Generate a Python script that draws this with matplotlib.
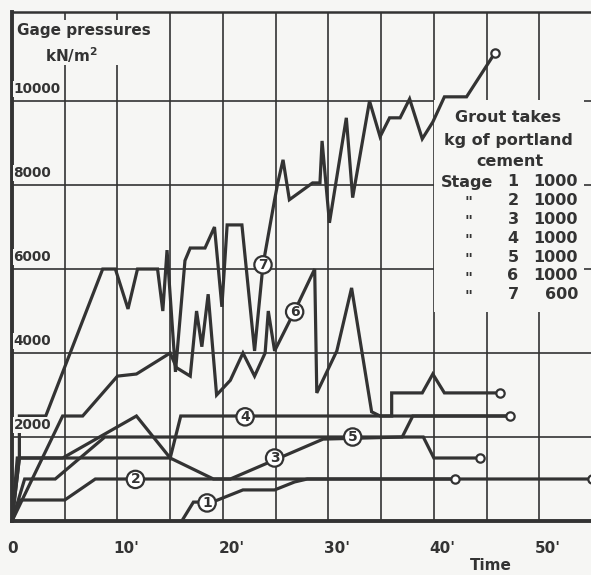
import matplotlib
matplotlib.use("Agg")
import matplotlib.pyplot as plt
from matplotlib.patches import Rectangle

# time in minutes, gage pressure in kN/m2
t1 = [16.1, 17.2, 19.0, 21.9, 24.9, 26.8, 28.0, 42.0]
p1 = [0, 450, 450, 740, 740, 930, 1000, 1000]

t2 = [0, 0.7, 5.0, 7.9, 55.0]
p2 = [0, 500, 500, 1000, 1000]

t3 = [0, 0.5, 15.0, 19.1, 20.7, 29.5, 37.0, 38.0, 47.2]
p3 = [0, 1500, 1500, 1000, 1000, 1950, 2000, 2500, 2500]

t4 = [0, 0.7, 4.8, 11.8, 15.0, 16.0, 47.2]
p4 = [0, 1500, 1500, 2500, 1500, 2500, 2500]

t5 = [0, 1.2, 4.1, 8.8, 39.0, 40.0, 44.4]
p5 = [0, 1000, 1000, 2000, 2000, 1500, 1500]

t6 = [0, 4.8, 6.7, 10.0, 11.8, 15.0, 15.6, 16.9, 17.5, 18.0, 18.6, 19.4, 20.7,
      21.9, 23.0, 24.0, 24.3, 24.9, 26.8, 28.7, 28.9, 30.8, 32.2, 34.1, 34.9,
      36.0, 36.0, 38.9, 39.9, 41.0, 46.3]
p6 = [0, 2500, 2500, 3450, 3500, 4000, 3650, 3450, 5000, 4150, 5400, 3000, 3350,
      4000, 3450, 4000, 5000, 4050, 5000, 6000, 3050, 4050, 5550, 2600, 2500,
      2500, 3050, 3050, 3500, 3050, 3050]

t7 = [0, 0.7, 0.7, 3.2, 8.6, 9.8, 11.0, 11.9, 13.8, 14.3, 14.7, 15.5, 16.4, 16.9,
      18.3, 19.2, 19.9, 20.4, 21.8, 23.0, 23.8, 24.9, 25.2, 25.7, 26.3, 28.5,
      29.2, 29.4, 30.1, 31.7, 32.3, 33.9, 34.9, 35.8, 36.8, 37.7, 38.9, 39.9,
      41.0, 43.1, 45.8]
p7 = [0, 1500, 2500, 2500, 6000, 6000, 5050, 6000, 6000, 5000, 6450, 3550, 6200,
      6500, 6500, 7000, 5100, 7050, 7050, 4050, 6100, 7650, 8050, 8600, 7650,
      8050, 8050, 9050, 7100, 9600, 7700, 10000, 9150, 9600, 9600, 10050, 9100,
      9500, 10100, 10100, 11150]

stages = [(t1, p1), (t2, p2), (t3, p3), (t4, p4), (t5, p5), (t6, p6), (t7, p7)]

# circled stage numbers
label_t = [18.5, 11.7, 24.9, 22.1, 32.3, 26.8, 23.8]
label_p = [430, 990, 1500, 2480, 2000, 4980, 6100]

# open end markers
end_t = [42.0, 55.0, 47.2, 44.4, 46.3, 45.8]
end_p = [1000, 1000, 2500, 1500, 3050, 11150]

grout_stage = ['1', '2', '3', '4', '5', '6', '7']
grout_kg = ['1000', '1000', '1000', '1000', '1000', '1000', '600']

x_ticks = [0, 10, 20, 30, 40, 50]
y_ticks = [2000, 4000, 6000, 8000, 10000]

ink = '#333333'
paper = '#f6f6f4'
W, H = 591, 575

plt.rcParams['font.family'] = ['DejaVu Sans']
plt.rcParams['font.weight'] = 'bold'

fig = plt.figure(figsize=(W / 100, H / 100), dpi=100, facecolor=paper)
ax = fig.add_axes([12 / W, 1 - 521 / H, 1 - 12 / W, (521 - 12) / H])
ax.set_facecolor(paper)
ax.set_xlim(0, 54.9)
ax.set_ylim(0, 12120)

for x in range(5, 56, 5):
    ax.axvline(x, color=ink, lw=1.2, zorder=1)
for y in y_ticks:
    ax.axhline(y, color=ink, lw=1.2, zorder=1)

for s in ['left', 'bottom']:
    ax.spines[s].set_linewidth(2.8)
    ax.spines[s].set_color(ink)
ax.spines['top'].set_linewidth(1.8)
ax.spines['top'].set_color(ink)
ax.spines['right'].set_visible(False)
ax.set_xticks([])
ax.set_yticks([])

for t, p in stages:
    ax.plot(t, p, color=ink, lw=2.3, solid_joinstyle='miter', zorder=3)

ax.plot(end_t, end_p, 'o', ms=6, mfc='white', mec=ink, mew=1.6, zorder=4,
        clip_on=False)

for i in range(len(label_t)):
    ax.text(label_t[i], label_p[i], str(i + 1), ha='center', va='center',
            fontsize=10, color=ink, zorder=5,
            bbox=dict(boxstyle='circle,pad=0.12', fc='white', ec=ink, lw=1.6))


def px(x, y):
    return x / W, 1 - y / H


# white patch behind the grout table and the axis title
ax.add_patch(Rectangle(px(434, 312), (584 - 434) / W, (312 - 100) / H,
                       transform=fig.transFigure, fc=paper, ec='none', zorder=2))
ax.add_patch(Rectangle(px(14, 65), (160 - 14) / W, (65 - 20) / H,
                       transform=fig.transFigure, fc=paper, ec='none', zorder=2))

fig.text(*px(84, 30), 'Gage pressures', ha='center', va='center', fontsize=11,
         color=ink, zorder=6)
fig.text(*px(72, 55), 'kN/m$^\\mathbf{2}$', ha='center', va='center',
         fontsize=11, color=ink, zorder=6)

for y in y_ticks:
    ax.text(0.15, y + 120, str(y), ha='left', va='bottom', fontsize=9.8,
            color=ink, zorder=6, bbox=dict(fc=paper, ec='none', pad=0.5))

for x in x_ticks:
    lab = '0' if x == 0 else "%d'" % x
    ax.text(x + (0.1 if x == 0 else 0.8), -480, lab, ha='center', va='top',
            fontsize=11, color=ink, clip_on=False)
fig.text(*px(491, 566), 'Time', ha='center', va='center', fontsize=11,
         color=ink)

fig.text(*px(508, 118), 'Grout takes', ha='center', va='center', fontsize=11.5,
         color=ink, zorder=6)
fig.text(*px(508, 141), 'kg of portland', ha='center', va='center',
         fontsize=11.5, color=ink, zorder=6)
fig.text(*px(510, 162), 'cement', ha='center', va='center', fontsize=11.5,
         color=ink, zorder=6)
for i in range(len(grout_stage)):
    yy = 182 + i * 18.8
    if i == 0:
        fig.text(*px(467, yy), 'Stage', ha='center', va='center',
                 fontsize=11.5, color=ink, zorder=6)
    else:
        fig.text(*px(469, yy + 3), '"', ha='center', va='center', fontsize=11,
                 color=ink, zorder=6)
    fig.text(*px(513, yy), grout_stage[i], ha='center', va='center',
             fontsize=11.5, color=ink, zorder=6)
    fig.text(*px(578, yy), grout_kg[i], ha='right', va='center',
             fontsize=11.5, color=ink, zorder=6)

fig.savefig('out.png', dpi=100, facecolor=paper)
